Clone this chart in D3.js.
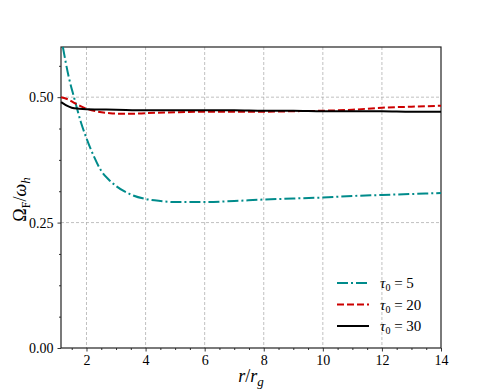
<!DOCTYPE html>
<html>
<head>
<meta charset="utf-8">
<script src="https://cdn.jsdelivr.net/npm/d3@7"></script>
<style>
  body { margin: 0; background: #fff; }
  svg text { font-family: "Liberation Serif", serif; }
</style>
</head>
<body>
<div id="viz-container"></div>
<script>
// series: [r/r_g, Omega_F/omega_h]
const tau5 = [
  [1.2, 0.60], [1.4, 0.54], [1.6, 0.495], [1.8, 0.452], [2.0, 0.418],
  [2.25, 0.382], [2.5, 0.353], [2.75, 0.336], [3.0, 0.323], [3.5, 0.306],
  [4.0, 0.297], [4.5, 0.293], [5.0, 0.291], [5.5, 0.291], [6.0, 0.291],
  [7.0, 0.293], [8.0, 0.296], [9.0, 0.298], [10.0, 0.300], [11.0, 0.303],
  [12.0, 0.305], [13.0, 0.307], [14.0, 0.309]
];
const tau20 = [
  [1.14, 0.500], [1.4, 0.495], [1.6, 0.488], [1.8, 0.482], [2.0, 0.477],
  [2.4, 0.471], [2.8, 0.468], [3.2, 0.467], [3.6, 0.467], [4.0, 0.468],
  [5.0, 0.470], [6.0, 0.471], [7.0, 0.471], [8.0, 0.471], [9.0, 0.472],
  [10.0, 0.473], [11.0, 0.475], [12.0, 0.479], [13.0, 0.481], [14.0, 0.483]
];
const tau30 = [
  [1.14, 0.490], [1.3, 0.484], [1.5, 0.479], [1.75, 0.477], [2.0, 0.476],
  [3.0, 0.475], [4.0, 0.474], [5.0, 0.474], [6.0, 0.474], [7.0, 0.474],
  [8.0, 0.473], [9.0, 0.473], [10.0, 0.472], [11.0, 0.472], [12.0, 0.472],
  [13.0, 0.471], [14.0, 0.471]
];
const xTicks = [2, 4, 6, 8, 10, 12, 14];
const yTicks = [0, 0.25, 0.5];
const legendTaus = ["5", "20", "30"];

const margin = {top: 47, right: 49, bottom: 44, left: 61},
  width = 490 - margin.left - margin.right,
  height = 392 - margin.top - margin.bottom;

const svg = d3.select("#viz-container").append("svg")
  .attr("width", 490)
  .attr("height", 392)
  .append("g")
    .attr("transform", `translate(${margin.left}, ${margin.top})`);

const x = d3.scaleLinear().domain([1.137, 14]).range([0, width]);
const y = d3.scaleLinear().domain([0, 0.6]).range([height, 0]);

// grid
svg.append("g")
  .selectAll("line")
  .data(xTicks.filter(d => d < 14))
  .join("line")
    .attr("x1", d => x(d)).attr("x2", d => x(d))
    .attr("y1", 0).attr("y2", height)
    .attr("stroke", "#b0b0b0").attr("stroke-width", 0.8)
    .attr("stroke-dasharray", "3,2");
svg.append("g")
  .selectAll("line")
  .data(yTicks.filter(d => d > 0))
  .join("line")
    .attr("x1", 0).attr("x2", width)
    .attr("y1", d => y(d)).attr("y2", d => y(d))
    .attr("stroke", "#b0b0b0").attr("stroke-width", 0.8)
    .attr("stroke-dasharray", "3,2");

// axes
svg.append("g")
  .attr("transform", `translate(0, ${height})`)
  .call(d3.axisBottom(x).tickValues(xTicks).tickSize(3.5).tickPadding(4).tickFormat(d3.format("d")));
svg.append("g")
  .attr("transform", `translate(0, ${height})`)
  .call(d3.axisBottom(x).tickValues(d3.range(1.5, 14, 0.5).filter(d => d % 2 !== 0)).tickSize(2).tickFormat(""))
  .call(g => g.select(".domain").remove());
svg.append("g")
  .call(d3.axisLeft(y).tickValues(yTicks).tickSize(3.5).tickPadding(4).tickFormat(d3.format(".2f")));
svg.append("g")
  .call(d3.axisLeft(y).tickValues(d3.range(0.0625, 0.6, 0.0625).filter(d => Math.abs(d % 0.25) > 1e-6)).tickSize(2).tickFormat(""))
  .call(g => g.select(".domain").remove());

svg.selectAll(".tick text").attr("font-size", 14).attr("fill", "#000");
svg.selectAll(".tick line").attr("stroke", "#000").attr("stroke-width", 0.8);
svg.selectAll("g").attr("font-family", null);
svg.selectAll(".domain").remove();

// frame
svg.append("rect")
  .attr("width", width).attr("height", height)
  .attr("fill", "none").attr("stroke", "#222").attr("stroke-width", 1.2);

const line = d3.line()
  .x(d => x(d[0]))
  .y(d => y(d[1]))
  .curve(d3.curveMonotoneX);

const series = [
  {data: tau5, color: "#008b8b", dash: "11,3,2,3"},
  {data: tau20, color: "#cc0000", dash: "7,3"},
  {data: tau30, color: "#000000", dash: null}
];

svg.append("g")
  .selectAll("path")
  .data(series)
  .join("path")
    .attr("d", d => line(d.data))
    .attr("fill", "none")
    .attr("stroke", d => d.color)
    .attr("stroke-width", 2)
    .attr("stroke-dasharray", d => d.dash);

// legend
const legend = svg.append("g")
  .attr("transform", `translate(${337 - margin.left}, ${283 - margin.top})`);
series.forEach((s, i) => {
  const row = legend.append("g").attr("transform", `translate(0, ${i * 21.5})`);
  row.append("line")
    .attr("x1", 0).attr("x2", 32).attr("y1", 0).attr("y2", 0)
    .attr("stroke", s.color).attr("stroke-width", 2)
    .attr("stroke-dasharray", s.dash);
  const t = row.append("text")
    .attr("x", 43).attr("y", 5)
    .attr("font-size", 15).attr("fill", "#000");
  t.append("tspan").attr("font-style", "italic").text("τ");
  t.append("tspan").attr("font-size", 10).attr("dy", 3).text("0");
  t.append("tspan").attr("dy", -3).text(" = " + legendTaus[i]);
});

// axis labels
const xl = svg.append("text")
  .attr("x", width / 2)
  .attr("y", height + 34)
  .attr("text-anchor", "middle")
  .attr("font-size", 18).attr("fill", "#000");
xl.append("tspan").attr("font-style", "italic").text("r");
xl.append("tspan").text("/");
xl.append("tspan").attr("font-style", "italic").text("r");
xl.append("tspan").attr("font-style", "italic").attr("font-size", 13).attr("dy", 4).text("g");

const yl = svg.append("text")
  .attr("transform", `translate(${-margin.left + 26}, ${height / 2 + 2}) rotate(-90)`)
  .attr("text-anchor", "middle")
  .attr("font-size", 18).attr("fill", "#000");
yl.append("tspan").text("Ω");
yl.append("tspan").attr("font-size", 12).attr("dy", 4).text("F");
yl.append("tspan").attr("dy", -4).text("/");
yl.append("tspan").attr("font-style", "italic").text("ω");
yl.append("tspan").attr("font-style", "italic").attr("font-size", 13).attr("dy", 4).text("h");
</script>
</body>
</html>
